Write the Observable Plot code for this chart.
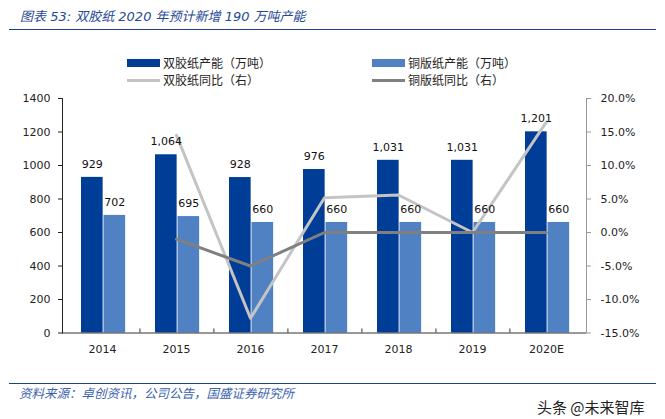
<!DOCTYPE html>
<html><head><meta charset="utf-8">
<script src="https://cdn.jsdelivr.net/npm/d3@7"></script>
<script src="https://cdn.jsdelivr.net/npm/@observablehq/plot@0.6"></script>
<style>
body{margin:0;background:#fff;}
#wrap{position:relative;width:665px;height:419px;overflow:hidden;font-family:"Noto Sans CJK SC",sans-serif;}
#title{position:absolute;left:20px;top:6px;font:italic 13px "DejaVu Sans","Noto Sans CJK SC",sans-serif;color:#1F4A96;white-space:nowrap;}
.hr{position:absolute;left:9px;width:647px;height:0;border-top:1.5px solid #1F3F8C;}
.leg{position:absolute;font-size:12px;color:#222;white-space:nowrap;line-height:14px;}
.sw{position:absolute;}
#source{position:absolute;left:19px;top:383px;font:italic 12.5px "Noto Sans CJK SC",sans-serif;color:#3A63AE;white-space:nowrap;}
#wm{position:absolute;left:537px;top:396px;font-size:15px;color:#222;white-space:nowrap;}
#chart{position:absolute;left:0;top:85px;}
</style></head><body>
<div id="wrap">
<div id="title">图表 53: 双胶纸 2020 年预计新增 190 万吨产能</div>
<div class="hr" style="top:29px"></div>
<div class="sw" style="left:127px;top:59px;width:33px;height:8px;background:#003D96"></div>
<div class="leg" style="left:163px;top:56px">双胶纸产能（万吨）</div>
<div class="sw" style="left:372px;top:59px;width:33px;height:8px;background:#4F81C3"></div>
<div class="leg" style="left:408px;top:56px">铜版纸产能（万吨）</div>
<div class="sw" style="left:127px;top:79px;width:33px;height:3px;background:#C4C4C4"></div>
<div class="leg" style="left:163px;top:73px">双胶纸同比（右）</div>
<div class="sw" style="left:372px;top:79px;width:33px;height:3px;background:#808080"></div>
<div class="leg" style="left:408px;top:73px">铜版纸同比（右）</div>
<div id="chart"></div>
<div class="hr" style="top:383px"></div>
<div id="source">资料来源：卓创资讯，公司公告，国盛证券研究所</div>
<div id="wm">头条 @未来智库</div>
</div>
<script>
const years = ["2014","2015","2016","2017","2018","2019","2020E"];
const shuangjiao = [929, 1064, 928, 976, 1031, 1031, 1201];
const tongban = [702, 695, 660, 660, 660, 660, 660];
const lineYears = ["2015","2016","2017","2018","2019","2020E"];
const shuangjiaoYoY = [14.5, -12.8, 5.2, 5.6, 0.0, 16.5];
const tongbanYoY = [-1.0, -5.0, 0.0, 0.0, 0.0, 0.0];
const leftTicks = [0, 200, 400, 600, 800, 1000, 1200, 1400];
const leftTickLabels = ["0", "200", "400", "600", "800", "1000", "1200", "1400"];
const rightTicks = [-15, -10, -5, 0, 5, 10, 15, 20];
const rightTickLabels = ["-15.0%", "-10.0%", "-5.0%", "0.0%", "5.0%", "10.0%", "15.0%", "20.0%"];

const W = 665, H = 285, mL = 62, mR = 79, mT = 13, mB = 37.5;
const bw = (W - mL - mR) / years.length;
const toLeft = p => (p + 15) / 35 * 1400;

const bars1 = years.map((y, i) => ({year: y, v: shuangjiao[i]}));
const bars2 = years.map((y, i) => ({year: y, v: tongban[i]}));
const l1 = lineYears.map((y, i) => ({year: y, p: toLeft(shuangjiaoYoY[i])}));
const l2 = lineYears.map((y, i) => ({year: y, p: toLeft(tongbanYoY[i])}));

const d1L = 16, d1R = 38.5, d2L = 38.5, d2R = 61;
const fmt = d3.format(",");
const txt = {fontFamily: "DejaVu Sans", fontSize: 11, fill: "#111"};
const rightPos = rightTicks.map(toLeft);

const chart = Plot.plot({
  width: W, height: H,
  marginLeft: mL, marginRight: mR, marginTop: mT, marginBottom: mB,
  style: {fontFamily: "DejaVu Sans", fontSize: "11px", color: "#222", background: "transparent"},
  x: {type: "band", domain: years, padding: 0, label: null},
  y: {domain: [0, 1400], label: null},
  marks: [
    Plot.barY(bars1, {x: "year", y: "v", fill: "#003D96", insetLeft: d1L, insetRight: bw - d1R}),
    Plot.barY(bars2, {x: "year", y: "v", fill: "#4F81C3", insetLeft: d2L, insetRight: bw - d2R}),
    Plot.line(l1, {x: "year", y: "p", stroke: "#C4C4C4", strokeWidth: 3}),
    Plot.line(l2, {x: "year", y: "p", stroke: "#808080", strokeWidth: 3}),
    Plot.text(bars1, {x: "year", y: "v", text: d => fmt(d.v), dx: (d1L + d1R) / 2 - bw / 2, dy: -13, ...txt}),
    Plot.text(bars2, {x: "year", y: "v", text: d => fmt(d.v), dx: (d2L + d2R) / 2 - bw / 2, dy: -13, ...txt}),
    Plot.ruleY([0], {stroke: "#333"}),
    Plot.ruleX(years.slice(0, -1), {x: d => d, dx: bw / 2, y1: 0, y2: 24, stroke: "#333"}),
    Plot.frame({anchor: "left", stroke: "#222"}),
    Plot.frame({anchor: "right", stroke: "#999"}),
    Plot.axisY(leftTicks, {anchor: "left", tickSize: 4, tickPadding: 8, tickFormat: d => leftTickLabels[leftTicks.indexOf(d)], label: null}),
    Plot.axisY(rightPos, {anchor: "right", tickSize: 4, tickPadding: 10, stroke: "#999", fill: "#222", tickFormat: v => rightTickLabels[rightPos.indexOf(v)], label: null}),
    Plot.axisX({tickSize: 0, tickPadding: 12, label: null})
  ]
});
document.getElementById("chart").appendChild(chart);
</script>
</body></html>
